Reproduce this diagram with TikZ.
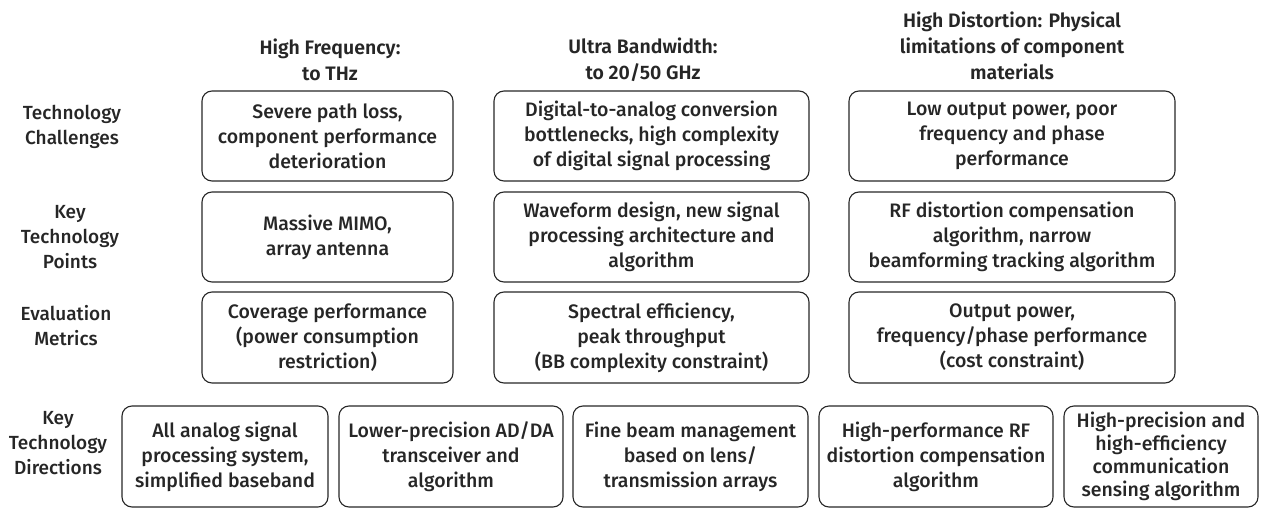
\documentclass[tikz,border=0pt]{standalone}
\usepackage{fontspec}
\IfFontExistsTF{Open Sans SemiBold}
  {\setmainfont{Open Sans SemiBold}[BoldFont={Open Sans Bold}]}
  {\IfFontExistsTF{Fira Sans Medium}
    {\setmainfont{Fira Sans Medium}[BoldFont={Fira Sans SemiBold}]}
    {\setmainfont{Open Sans}}}
\begin{document}
\begin{tikzpicture}[x=1pt,y=-1pt,
  box/.style={draw=black!85, line width=1.1pt, rounded corners=10pt, align=center, inner sep=0pt,
    font=\fontsize{19.5}{25}\selectfont, text=black!85},
  hdr/.style={align=center, font=\fontsize{19.5}{26}\selectfont\bfseries, text=black!85},
  rowlab/.style={align=center, font=\fontsize{19}{25}\selectfont, text=black!85}]
\useasboundingbox (0,0) rectangle (1263,508);
% column headers
\node[hdr] (h1) at (330,60) {High Frequency:\\to THz};
\node[hdr] (h2) at (643,60) {Ultra Bandwidth:\\to 20/50 GHz};
\node[hdr] (h3) at (1012,46) {High Distortion: Physical\\limitations of component\\materials};
% row labels
\node[rowlab] (l1) at (72,127) {Technology\\ Challenges};
\node[rowlab] (l2) at (70,237) {Key\\Technology\\Points};
\node[rowlab] (l3) at (66,326) {Evaluation\\ Metrics};
\node[rowlab] (l4) at (58,443) {Key\\Technology\\Directions};
% row 1
\node[box, minimum width=251, minimum height=90] (a1) at (327.5,136) {Severe path loss,\\component performance\\deterioration};
\node[box, minimum width=315, minimum height=90] (a2) at (651.5,136) {Digital-to-analog conversion\\bottlenecks, high complexity\\of digital signal processing};
\node[box, minimum width=326, minimum height=90] (a3) at (1012,136) {Low output power, poor\\frequency and phase\\performance};
% row 2
\node[box, minimum width=251, minimum height=90] (b1) at (327.5,237) {Massive MIMO,\\array antenna};
\node[box, minimum width=315, minimum height=90] (b2) at (651.5,237) {Waveform design, new signal\\processing architecture and\\algorithm};
\node[box, minimum width=326, minimum height=90] (b3) at (1012,237) {RF distortion compensation\\algorithm, narrow\\beamforming tracking algorithm};
% row 3
\node[box, minimum width=251, minimum height=91] (c1) at (327.5,337.5) {Coverage performance\\(power consumption\\restriction)};
\node[box, minimum width=315, minimum height=91] (c2) at (651.5,337.5) {Spectral efficiency,\\peak throughput\\(BB complexity constraint)};
\node[box, minimum width=326, minimum height=91] (c3) at (1012,337.5) {Output power,\\frequency/phase performance\\(cost constraint)};
% row 4
\node[box, minimum width=206, minimum height=101] (d1) at (225,456.5) {All analog signal\\processing system,\\simplified baseband};
\node[box, minimum width=224, minimum height=101] (d2) at (451,456.5) {Lower-precision AD/DA\\transceiver and\\algorithm};
\node[box, minimum width=235, minimum height=101] (d3) at (690.5,456.5) {Fine beam management\\based on lens/\\transmission arrays};
\node[box, minimum width=234, minimum height=101] (d4) at (936,456.5) {High-performance RF\\distortion compensation\\algorithm};
\node[box, minimum width=194, minimum height=101, font=\fontsize{19.5}{23}\selectfont] (d5) at (1161,456.5) {High-precision and\\high-efficiency\\communication\\sensing algorithm};
\end{tikzpicture}
\end{document}
